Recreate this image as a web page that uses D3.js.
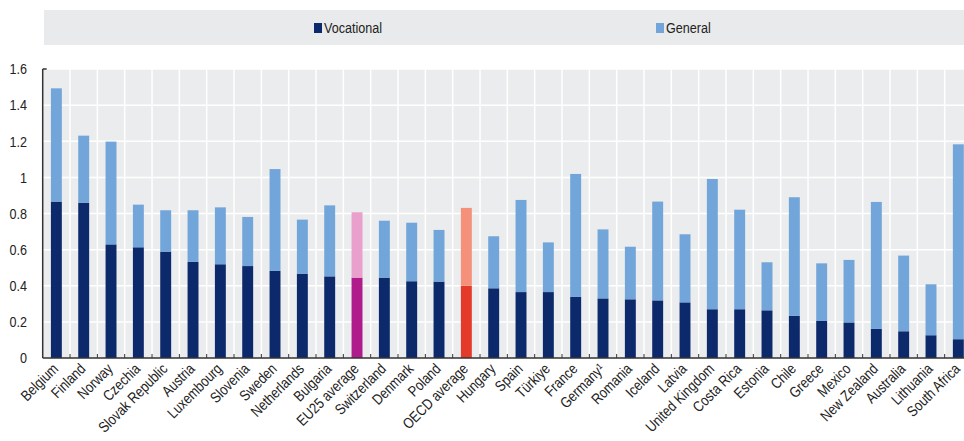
<!DOCTYPE html>
<html><head><meta charset="utf-8">
<script src="https://cdn.jsdelivr.net/npm/d3@7/dist/d3.min.js"></script>
<style>
body{margin:0;background:#fff;}
svg{display:block;font-family:"Liberation Sans",Arial,sans-serif;}
</style></head>
<body><svg id="c" width="964" height="441"></svg>
<script>
const categories = ["Belgium","Finland","Norway","Czechia","Slovak Republic","Austria","Luxembourg","Slovenia","Sweden","Netherlands","Bulgaria","EU25 average","Switzerland","Denmark","Poland","OECD average","Hungary","Spain","Türkiye","France","Germany\u00B9","Romania","Iceland","Latvia","United Kingdom","Costa Rica","Estonia","Chile","Greece","Mexico","New Zealand","Australia","Lithuania","South Africa"];
const vocational = [0.866,0.860,0.629,0.613,0.589,0.532,0.519,0.509,0.482,0.467,0.452,0.445,0.445,0.425,0.423,0.400,0.386,0.365,0.365,0.338,0.330,0.325,0.319,0.308,0.270,0.270,0.264,0.234,0.205,0.197,0.161,0.148,0.126,0.104];
const general = [0.627,0.371,0.569,0.236,0.229,0.286,0.315,0.272,0.564,0.299,0.393,0.362,0.315,0.324,0.286,0.431,0.288,0.510,0.275,0.681,0.382,0.291,0.547,0.377,0.721,0.551,0.266,0.656,0.319,0.346,0.703,0.419,0.282,1.079];
const yTicks = [0,0.2,0.4,0.6,0.8,1,1.2,1.4,1.6];
const seriesNames = ["Vocational","General"];

const colors = {
  Vocational: "#0c2a6b", General: "#72a5d9",
  euVoc: "#b01b8b", euGen: "#e9a0cc",
  oecdVoc: "#e43a29", oecdGen: "#f5917b"
};
function colorFor(cat, series){
  if (cat === "EU25 average") return series === "Vocational" ? colors.euVoc : colors.euGen;
  if (cat === "OECD average") return series === "Vocational" ? colors.oecdVoc : colors.oecdGen;
  return colors[series];
}
const NARROW = 0.84;

const svg = d3.select("#c");
const x0 = 42.7, plotRight = 972, yTop = 69, yBot = 358;
const x = d3.scaleBand().domain(categories).range([x0, plotRight]).paddingInner(0.6).paddingOuter(0.3);
const y = d3.scaleLinear().domain([0,1.6]).range([yBot, yTop]);
const step = x.step();

// legend
svg.append("rect").attr("x",44).attr("y",10).attr("width",920).attr("height",35).attr("fill","#e9eaeb");
const legendX = [314, 656];
seriesNames.forEach((s,i)=>{
  svg.append("rect").attr("x",legendX[i]).attr("y",23).attr("width",8).attr("height",10).attr("fill",colors[s]);
  svg.append("text").attr("transform",`translate(${legendX[i]+10},33) scale(${NARROW},1)`)
    .attr("font-size",15).attr("fill","#222").text(s);
});

// plot background
svg.append("rect").attr("x",x0).attr("y",yTop).attr("width",plotRight-x0).attr("height",yBot-yTop).attr("fill","#ebeced");

// horizontal grid
svg.append("g").selectAll("line").data(yTicks.filter(d=>d>0)).join("line")
  .attr("x1",x0).attr("x2",plotRight).attr("y1",d=>y(d)).attr("y2",d=>y(d))
  .attr("stroke","#fff").attr("stroke-width",1.5);
// vertical grid
const bounds = d3.range(1, categories.length+1).map(i => x0 + i*step);
svg.append("g").selectAll("line").data(bounds).join("line")
  .attr("x1",d=>d).attr("x2",d=>d).attr("y1",yTop).attr("y2",yBot)
  .attr("stroke","#fff").attr("stroke-width",1.5);

// stacked bars
const data = categories.map((c,i)=>({cat:c, Vocational:vocational[i], General:general[i]}));
const stack = d3.stack().keys(seriesNames)(data);
svg.append("g").selectAll("g").data(stack).join("g")
  .each(function(layer){
    d3.select(this).selectAll("rect").data(layer).join("rect")
      .attr("x",d=>x(d.data.cat)).attr("width",x.bandwidth())
      .attr("y",d=>y(d[1])).attr("height",d=>y(d[0])-y(d[1]))
      .attr("fill",d=>colorFor(d.data.cat, layer.key));
  });

// x axis line & ticks (upward)
svg.append("line").attr("x1",x0).attr("x2",plotRight).attr("y1",yBot).attr("y2",yBot).attr("stroke","#333").attr("stroke-width",1.5);
svg.append("g").selectAll("line").data(bounds).join("line")
  .attr("x1",d=>d).attr("x2",d=>d).attr("y1",yBot).attr("y2",yBot-4)
  .attr("stroke","#333").attr("stroke-width",1);

// y axis
svg.append("line").attr("x1",x0).attr("x2",x0).attr("y1",yTop).attr("y2",yBot).attr("stroke","#333").attr("stroke-width",1.5);
svg.append("line").attr("x1",x0).attr("x2",x0+4).attr("y1",yTop).attr("y2",yTop).attr("stroke","#333").attr("stroke-width",1.5);
svg.append("g").selectAll("text").data(yTicks).join("text")
  .attr("transform",d=>`translate(27,${y(d)}) scale(${NARROW},1)`)
  .attr("dy","0.35em").attr("text-anchor","end")
  .attr("font-size",15).attr("fill","#222").text(d=>d3.format("~g")(d));

// x labels
svg.append("g").selectAll("text").data(categories).join("text")
  .attr("transform",d=>`translate(${x(d)+x.bandwidth()/2-1},${yBot+8}) rotate(-45) scale(${NARROW},1)`)
  .attr("text-anchor","end").attr("dy","0.35em")
  .attr("font-size",15).attr("fill","#222").text(d=>d);
</script></body></html>
